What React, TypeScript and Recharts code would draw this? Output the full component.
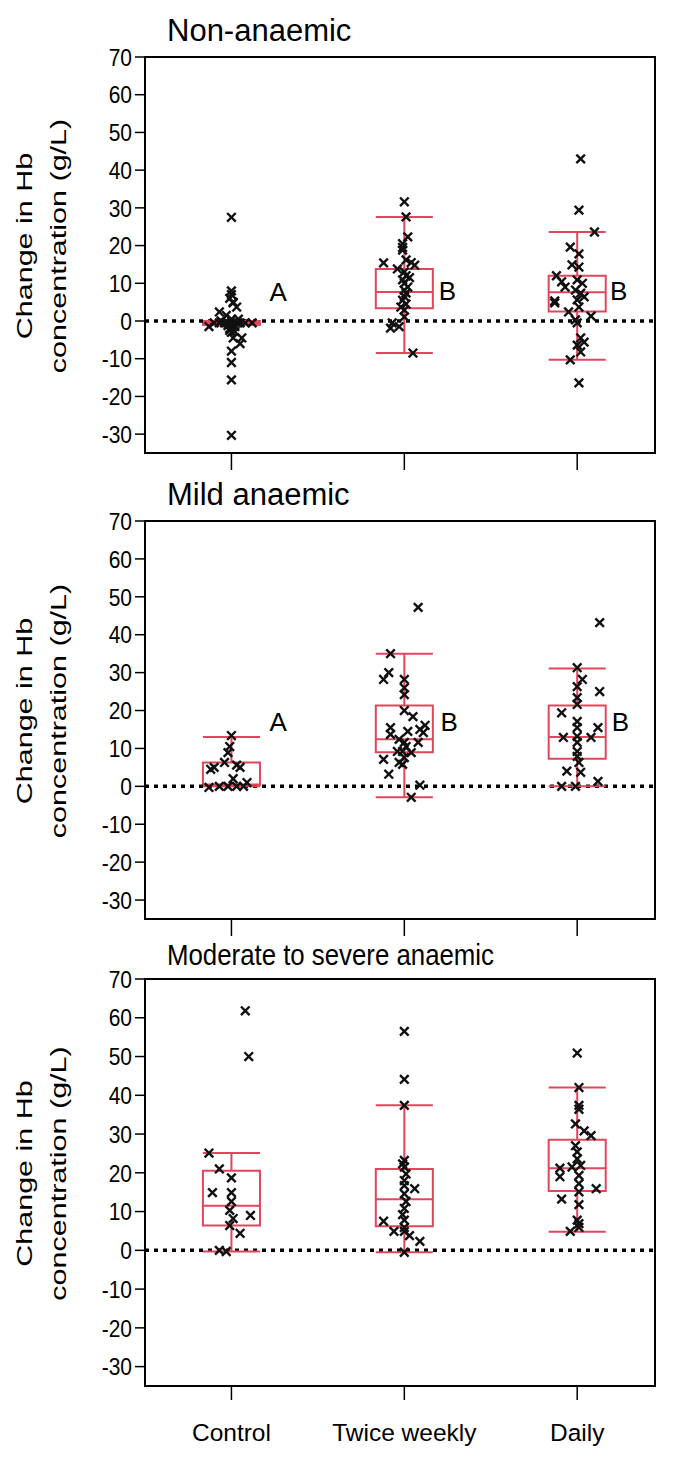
import React from "react";
import { ComposedChart, XAxis, YAxis, Scatter, ReferenceArea, ReferenceLine, ReferenceDot } from "recharts";

const groups = ["Control", "Twice weekly", "Daily"];
const yTicks = [-30, -20, -10, 0, 10, 20, 30, 40, 50, 60, 70];

// [low whisker, q1, median, q3, high whisker]
const nonBoxes = [[-1, -1, -0.5, 0, 0], [-8.5, 3.4, 7.7, 13.8, 27.6], [-10.3, 2.5, 7.6, 12.0, 23.6]];
const mildBoxes = [[0, 0.3, 0.5, 6.3, 13.0], [-2.9, 9.0, 12.4, 21.3, 35.0], [0, 7.3, 13.0, 21.3, 31.1]];
const modBoxes = [[-0.3, 6.4, 11.5, 20.5, 25.1], [-0.5, 6.2, 13.2, 21.0, 37.4], [4.8, 15.3, 21.2, 28.5, 42.0]];

// individual changes [x (jittered group), y]
const nonControl = [[1.0,27.5],[1.0,8.0],[1.0,7.0],[0.99,6.0],[1.01,5.0],[0.93,2.4],[1.03,3.7],[1.01,4.8],[0.97,1.5],[1.0,0.5],[0.87,-1.5],[0.9,-0.5],[0.93,-0.5],[0.96,-0.5],[0.98,-0.5],[1.0,-0.5],[1.03,-0.5],[1.05,-0.5],[1.08,-0.5],[1.12,-0.5],[0.98,-1.2],[1.02,-1.5],[0.99,-2.5],[1.0,-3.0],[1.01,-4.5],[1.06,-4.5],[1.05,-6.0],[1.0,-8.0],[1.0,-11.0],[1.0,-15.6],[1.0,-30.3],[0.94,0.0],[1.04,0.5],[0.99,-2.0],[1.02,-2.8]];
const nonTwice = [[2.0,31.6],[2.01,27.6],[2.02,22.3],[1.99,19.5],[1.99,18.8],[1.88,15.4],[2.06,14.8],[2.01,16.2],[2.0,13.0],[2.01,12.0],[1.99,10.9],[2.0,10.0],[2.02,9.0],[2.0,8.2],[2.01,7.4],[2.0,6.5],[1.99,5.5],[2.01,4.5],[2.0,2.9],[2.0,1.1],[1.93,-0.5],[1.92,-1.9],[1.97,-1.5],[2.05,-8.5],[2.03,11.5],[1.98,3.7],[1.96,13.8],[2.04,15.5],[1.99,20.5]];
const nonDaily = [[3.02,43.0],[3.01,29.4],[3.1,23.6],[2.96,19.6],[3.01,17.8],[2.97,14.9],[3.01,14.3],[2.88,12.0],[2.91,10.4],[2.93,9.0],[3.0,10.9],[3.03,10.0],[2.99,8.2],[3.02,7.4],[3.04,6.4],[3.0,5.6],[2.87,5.3],[2.87,4.8],[2.95,2.4],[3.01,3.7],[3.08,1.3],[2.99,0.3],[3.0,-0.5],[3.02,-4.5],[3.04,-5.6],[3.0,-6.4],[3.02,-8.2],[2.96,-10.3],[3.01,-16.4]];

const mildControl = [[1.0,13.4],[0.99,10.5],[0.98,8.9],[0.96,6.3],[1.03,5.6],[0.9,5.0],[0.88,4.5],[1.05,5.0],[1.01,2.0],[1.09,1.0],[0.93,0],[0.98,0],[1.03,0],[1.07,0],[0.87,-0.3]];
const mildTwice = [[2.08,47.2],[1.92,35.0],[1.91,30.0],[1.88,28.2],[2.0,28.2],[2.0,26.0],[2.0,24.2],[2.0,20.0],[2.05,18.4],[1.92,15.5],[1.92,13.7],[2.02,14.5],[2.09,15.0],[2.12,16.1],[2.11,14.2],[1.97,12.4],[2.0,11.6],[2.01,10.5],[2.08,11.6],[1.96,9.2],[1.99,9.2],[2.04,8.9],[2.0,7.6],[1.97,6.3],[1.99,5.8],[1.88,7.1],[1.91,3.2],[2.09,0.3],[2.04,-2.9]];
const mildDaily = [[3.13,43.2],[3.0,31.3],[3.03,28.2],[3.0,26.3],[3.13,25.0],[3.0,23.4],[3.0,21.6],[2.91,19.4],[3.0,17.1],[3.0,15.5],[3.12,15.5],[2.92,12.9],[3.0,13.2],[3.08,12.9],[3.0,11.6],[3.0,9.2],[3.0,7.9],[3.01,6.3],[3.02,3.7],[3.12,1.3],[2.99,0],[2.94,4.0],[2.91,0]];

const modControl = [[1.08,61.8],[1.1,50.0],[0.87,25.1],[0.93,21.0],[1.0,18.7],[0.89,14.9],[1.0,14.9],[1.0,12.6],[0.99,10.3],[1.01,8.2],[1.11,9.0],[0.99,6.4],[1.05,4.4],[0.93,0],[0.97,-0.3]];
const modTwice = [[2.0,56.5],[2.0,44.1],[2.0,37.4],[2.0,23.2],[1.99,22.3],[2.0,21.5],[2.01,19.7],[2.0,18.0],[2.06,15.9],[2.0,16.7],[2.0,14.6],[2.01,12.6],[2.0,10.8],[1.99,9.2],[2.0,7.8],[1.88,7.5],[2.0,5.9],[1.94,4.9],[2.0,4.9],[2.03,3.8],[2.09,2.3],[2.0,-0.5]];
const modDaily = [[3.0,50.9],[3.01,42.0],[3.01,37.4],[3.01,36.4],[2.99,32.6],[3.04,30.8],[3.08,29.6],[2.99,27.0],[3.0,25.4],[3.0,23.6],[2.9,21.2],[2.97,21.5],[3.02,21.9],[2.9,19.0],[3.01,19.3],[3.01,17.2],[3.11,15.9],[3.01,15.1],[2.91,13.2],[3.01,11.8],[3.0,7.8],[3.01,6.9],[3.01,5.9],[2.96,4.9]];

// significance letters [text, x, y]
const nonLetters = [["A", 1.27, 7.7], ["B", 2.25, 8.0], ["B", 3.24, 8.0]];
const mildLetters = [["A", 1.27, 17], ["B", 2.26, 17], ["B", 3.25, 17]];

const RED = "#e2465c";
const FONT = "'Liberation Sans', Arial, sans-serif";

const toPts = (arr: number[][]) => arr.map(([x, y]) => ({ x, y }));

const Cross = (props: any) => {
  const { cx, cy } = props;
  if (cx == null || cy == null) return null;
  const s = 4.3;
  return (
    <g stroke="#111" strokeWidth={2.4}>
      <line x1={cx - s} y1={cy - s} x2={cx + s} y2={cy + s} />
      <line x1={cx - s} y1={cy + s} x2={cx + s} y2={cy - s} />
    </g>
  );
};

// y tick labels in the original are a little taller than wide
const YTick = (props: any) => {
  const { x, y, payload } = props;
  return (
    <text transform={`translate(${x}, ${y}) scale(1, 1.15)`} textAnchor="end" dy="0.36em" fontSize={21} fill="#000">
      {payload.value}
    </text>
  );
};

function Panel({ title, titleY, titleSize, titleSX, plotTop, plotH, boxes, points, letters, showLabels }: any) {
  const mTop = 20;
  const xAxisH = showLabels ? 75 : 22;
  const h = mTop + plotH + xAxisH;
  const w = 0.165;
  const cy = mTop + plotH / 2 - 9;
  const fs = titleSize || 31;

  return (
    <>
      <div
        style={{
          position: "absolute",
          left: 167,
          top: titleY - fs / 2,
          fontSize: fs,
          lineHeight: `${fs}px`,
          fontFamily: FONT,
          color: "#000",
          whiteSpace: "nowrap",
          transformOrigin: "0 50%",
          transform: `scaleX(${titleSX || 1})`,
        }}
      >
        {title}
      </div>
      <div style={{ position: "absolute", left: 0, top: plotTop - mTop, width: 685, height: h }}>
        <ComposedChart width={685} height={h} margin={{ top: mTop, right: 30, bottom: 0, left: 85 }} style={{ fontFamily: FONT }}>
          <XAxis
            type="number"
            dataKey="x"
            domain={[0.5, 3.45]}
            ticks={[1, 2, 3]}
            height={xAxisH}
            axisLine={false}
            tickSize={showLabels ? 14 : 17}
            tickMargin={24}
            tickLine={{ stroke: "#000", strokeWidth: 1.5 }}
            tick={{ fontSize: 24.5, fill: "#000" }}
            tickFormatter={(v: number) => (showLabels ? groups[v - 1] : "")}
          />
          <YAxis
            type="number"
            dataKey="y"
            domain={[-35, 70]}
            ticks={yTicks}
            width={60}
            axisLine={false}
            tickSize={10}
            tickMargin={3}
            tickLine={{ stroke: "#000", strokeWidth: 1.5 }}
            tick={<YTick />}
            label={{
              content: () => (
                <text transform={`translate(32, ${cy}) rotate(-90) scale(1.42, 1)`} textAnchor="middle" fontSize={21.5} fill="#000">
                  <tspan x={0} dy={0}>Change in Hb</tspan>
                  <tspan x={0} dy={34}>concentration (g/L)</tspan>
                </text>
              ),
            }}
          />
          {/* frame */}
          <ReferenceArea x1={0.5} x2={3.45} y1={-35} y2={70} stroke="#000" strokeWidth={2} fill="none" fillOpacity={0} ifOverflow="visible" />
          <ReferenceLine y={0} stroke="#000" strokeWidth={3.5} strokeDasharray="4 5" />
          {boxes.map((b: number[], i: number) => {
            const c = i + 1;
            return (
              <React.Fragment key={i}>
                <ReferenceLine segment={[{ x: c, y: b[3] }, { x: c, y: b[4] }]} stroke={RED} strokeWidth={2} ifOverflow="visible" />
                <ReferenceLine segment={[{ x: c, y: b[0] }, { x: c, y: b[1] }]} stroke={RED} strokeWidth={2} ifOverflow="visible" />
                <ReferenceLine segment={[{ x: c - w, y: b[4] }, { x: c + w, y: b[4] }]} stroke={RED} strokeWidth={2} ifOverflow="visible" />
                <ReferenceLine segment={[{ x: c - w, y: b[0] }, { x: c + w, y: b[0] }]} stroke={RED} strokeWidth={2} ifOverflow="visible" />
                <ReferenceArea x1={c - w} x2={c + w} y1={b[1]} y2={b[3]} stroke={RED} strokeWidth={2} fill="none" fillOpacity={0} ifOverflow="visible" />
                <ReferenceLine segment={[{ x: c - w, y: b[2] }, { x: c + w, y: b[2] }]} stroke={RED} strokeWidth={2} ifOverflow="visible" />
              </React.Fragment>
            );
          })}
          {points.map((p: number[][], i: number) => (
            <Scatter key={i} data={toPts(p)} dataKey="y" shape={Cross} isAnimationActive={false} />
          ))}
          {(letters || []).map((l: any[], i: number) => (
            <ReferenceDot
              key={"l" + i}
              x={l[1]}
              y={l[2]}
              r={0}
              fill="none"
              stroke="none"
              label={{ value: l[0], position: "center", fontSize: 26, fill: "#000" }}
            />
          ))}
        </ComposedChart>
      </div>
    </>
  );
}

export default function App() {
  return (
    <div style={{ position: "absolute", left: 0, top: 0, width: 685, height: 1473, background: "#fff", fontFamily: FONT }}>
      <Panel title="Non-anaemic" titleY={30} plotTop={57} plotH={396} boxes={nonBoxes} points={[nonControl, nonTwice, nonDaily]} letters={nonLetters} />
      <Panel title="Mild anaemic" titleY={494} plotTop={521} plotH={398} boxes={mildBoxes} points={[mildControl, mildTwice, mildDaily]} letters={mildLetters} />
      <Panel title="Moderate to severe anaemic" titleY={955} titleSize={30} titleSX={0.86} plotTop={979} plotH={407} boxes={modBoxes} points={[modControl, modTwice, modDaily]} showLabels />
    </div>
  );
}
